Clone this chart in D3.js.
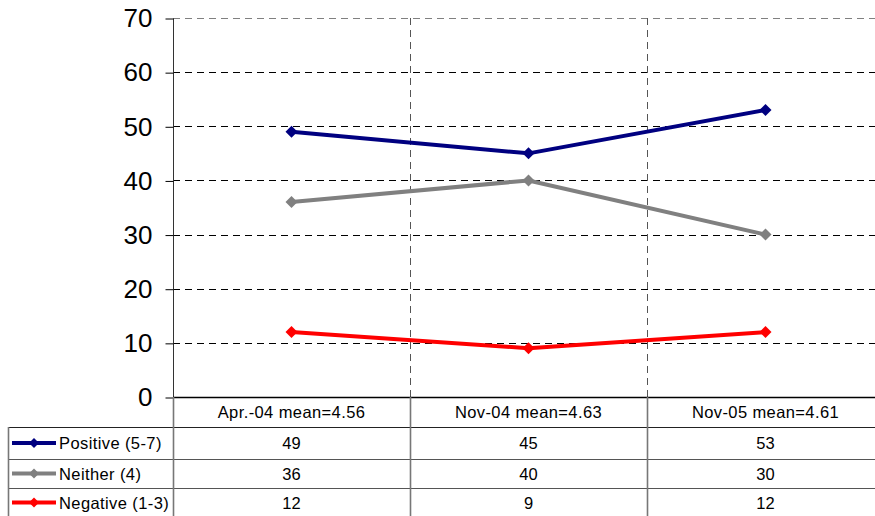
<!DOCTYPE html>
<html>
<head>
<meta charset="utf-8">
<script src="https://cdn.jsdelivr.net/npm/d3@7/dist/d3.min.js"></script>
<style>
  html, body { margin: 0; padding: 0; background: #fff; }
  svg { display: block; font-family: Arial, "Liberation Sans", sans-serif; }
</style>
</head>
<body>
<svg id="chart" width="875" height="516"></svg>
<script>
// Survey waves and the share of respondents in each rating band
const categories = ["Apr.-04 mean=4.56", "Nov-04 mean=4.63", "Nov-05 mean=4.61"];
const seriesNames = ["Positive (5-7)", "Neither (4)", "Negative (1-3)"];
const seriesColors = ["#000080", "#808080", "#FF0000"];
const positive = [49, 45, 53];
const neither = [36, 40, 30];
const negative = [12, 9, 12];
const yTicks = [0, 10, 20, 30, 40, 50, 60, 70];

(function () {
const series = [positive, neither, negative].map((values, i) => ({
  name: seriesNames[i], color: seriesColors[i], values
}));

const svg = d3.select("#chart");
const plotL = 173, plotR = 884, plotT = 18, plotB = 397;
const tableLeft = 8, rowLines = [427, 459, 488], rowBottom = 517;

const x = d3.scaleBand().domain(categories).range([plotL, plotR]);
const y = d3.scaleLinear().domain([0, 70]).range([plotB, plotT]);
const cx = c => x(c) + x.bandwidth() / 2;

// Square diamond marker (equal width and height)
const squareDiamond = {
  draw(ctx, size) {
    const r = Math.sqrt(size) / 2;
    ctx.moveTo(0, -r); ctx.lineTo(r, 0); ctx.lineTo(0, r); ctx.lineTo(-r, 0); ctx.closePath();
  }
};

// Horizontal grid lines
svg.append("g").selectAll("line").data(yTicks.filter(d => d > 0)).join("line")
  .attr("x1", plotL).attr("x2", plotR)
  .attr("y1", d => Math.round(y(d)) + 0.5).attr("y2", d => Math.round(y(d)) + 0.5)
  .attr("stroke", d => d === 70 ? "#808080" : "#000")
  .attr("stroke-width", 1)
  .attr("stroke-dasharray", "7,5");

// Vertical dashed separators between waves inside the plot
const seps = categories.slice(1).map(c => Math.round(x(c)));
svg.append("g").selectAll("line").data(seps).join("line")
  .attr("x1", d => d + 0.5).attr("x2", d => d + 0.5)
  .attr("y1", plotT).attr("y2", plotB)
  .attr("stroke", "#555").attr("stroke-dasharray", "7,5");

// Y axis
const yAxis = d3.axisLeft(y).tickValues(yTicks).tickSize(8).tickPadding(13);
const ga = svg.append("g").attr("transform", `translate(${plotL + 0.5},0.5)`).call(yAxis);
ga.select(".domain").attr("stroke", "#333").attr("d", `M0,${plotT}V${plotB}`);
ga.selectAll(".tick line").attr("stroke", "#000");
ga.selectAll(".tick text").attr("font-size", 26).attr("fill", "#000")
  .attr("font-family", "Arial, 'Liberation Sans', sans-serif");

// Data table grid
const tg = svg.append("g").attr("fill", "none");
tg.append("line").attr("x1", plotL).attr("x2", plotR).attr("y1", plotB + 0.5).attr("y2", plotB + 0.5)
  .attr("stroke", "#000").attr("stroke-width", 1.5);
rowLines.forEach((yy, r) => tg.append("line")
  .attr("x1", tableLeft).attr("x2", plotR).attr("y1", yy + 0.5).attr("y2", yy + 0.5)
  .attr("stroke", r === 0 ? "#222" : "#555"));
[plotL, ...seps].forEach(s => tg.append("line")
  .attr("x1", s + 0.5).attr("x2", s + 0.5).attr("y1", plotB).attr("y2", rowBottom)
  .attr("stroke", "#777").attr("stroke-width", 1.6));
tg.append("line").attr("x1", tableLeft + 0.5).attr("x2", tableLeft + 0.5)
  .attr("y1", rowLines[0]).attr("y2", rowBottom).attr("stroke", "#777").attr("stroke-width", 1.6);

// Column headers
svg.append("g").selectAll("text").data(categories).join("text")
  .attr("x", d => cx(d)).attr("y", 418)
  .attr("text-anchor", "middle").attr("font-size", 16.5).attr("letter-spacing", 0.4).attr("fill", "#000")
  .text(d => d);

// Table rows: legend key plus values
const rowEdges = [...rowLines, rowBottom];
series.forEach((s, i) => {
  const cy = (rowEdges[i] + rowEdges[i + 1]) / 2;
  const g = svg.append("g");
  g.append("line").attr("x1", 12).attr("x2", 56).attr("y1", cy).attr("y2", cy)
    .attr("stroke", s.color).attr("stroke-width", 4);
  g.append("path").attr("d", d3.symbol().type(squareDiamond).size(100)())
    .attr("transform", `translate(34,${cy})`).attr("fill", s.color);
  g.append("text").attr("x", 59).attr("y", cy + 6).attr("font-size", 16.5)
    .attr("letter-spacing", 0.4).attr("fill", "#000").text(s.name);
  g.selectAll("text.v").data(s.values).join("text").attr("class", "v")
    .attr("x", (d, j) => cx(categories[j])).attr("y", cy + 6)
    .attr("text-anchor", "middle").attr("font-size", 16.5).attr("fill", "#000")
    .text(d => d);
});

// Series lines and markers
const line = d3.line().x((d, j) => cx(categories[j])).y(d => y(d));
series.forEach(s => {
  svg.append("path").datum(s.values).attr("d", line)
    .attr("fill", "none").attr("stroke", s.color).attr("stroke-width", 4)
    .attr("stroke-linejoin", "round");
  svg.append("g").selectAll("path").data(s.values).join("path")
    .attr("d", d3.symbol().type(squareDiamond).size(144)())
    .attr("transform", (d, j) => `translate(${cx(categories[j])},${y(d)})`)
    .attr("fill", s.color);
});
})();
</script>
</body>
</html>
